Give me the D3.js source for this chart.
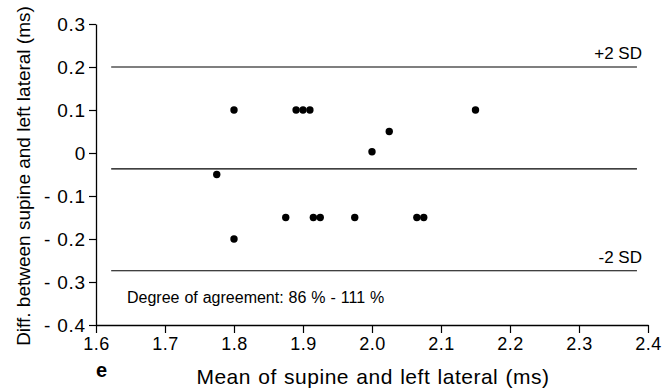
<!DOCTYPE html>
<html>
<head>
<meta charset="utf-8">
<script src="https://cdn.jsdelivr.net/npm/d3@7"></script>
<style>
  html, body { margin: 0; padding: 0; background: #fff; }
  svg { display: block; font-family: "Liberation Sans", Arial, sans-serif; }
</style>
</head>
<body>
<svg id="chart" width="662" height="388"></svg>
<script>
// Bland-Altman data: mean of the two positions vs. their difference (ms)
const meanValues = [1.80, 1.89, 1.90, 1.91, 2.15, 2.025, 2.00, 1.775, 1.875, 1.915, 1.925, 1.975, 2.065, 2.075, 1.80];
const diffValues = [0.10, 0.10, 0.10, 0.10, 0.10, 0.05, 0.003, -0.05, -0.15, -0.15, -0.15, -0.15, -0.15, -0.15, -0.20];

// Reference lines: mean difference and ±2 SD limits
const refLines = [
  { name: "+2 SD", value: 0.20 },
  { name: "mean", value: -0.037 },
  { name: "-2 SD", value: -0.274 }
];
const refLineExtent = [1.622, 2.384];

const xTicks = [1.6, 1.7, 1.8, 1.9, 2.0, 2.1, 2.2, 2.3, 2.4];
const yTicks = [-0.4, -0.3, -0.2, -0.1, 0, 0.1, 0.2, 0.3];

const xTitle = "Mean of supine and left lateral (ms)";
const yTitle = "Diff. between supine and left lateral (ms)";
const agreementText = "Degree of agreement: 86 % - 111 %";
const panelLabel = "e";

const svg = d3.select("#chart");
const plotLeft = 96, plotRight = 648, plotTop = 24, plotBottom = 325;

const x = d3.scaleLinear().domain([1.6, 2.4]).range([plotLeft, plotRight]);
const y = d3.scaleLinear().domain([-0.4, 0.3]).range([plotBottom, plotTop]);

const fmtX = d => d.toFixed(1);
const fmtY = d => d === 0 ? "0" : d.toFixed(1);

// Axes
const xAxis = svg.append("g")
  .attr("transform", `translate(0,${plotBottom})`)
  .call(d3.axisBottom(x).tickValues(xTicks).tickFormat(fmtX).tickSize(8).tickSizeOuter(0));
const yAxis = svg.append("g")
  .attr("transform", `translate(${plotLeft},0)`)
  .call(d3.axisLeft(y).tickValues(yTicks).tickFormat(fmtY).tickSize(7).tickSizeOuter(0));

[xAxis, yAxis].forEach(g => {
  g.select(".domain").attr("stroke", "#000").attr("stroke-width", 1.3);
  g.selectAll(".tick line").attr("stroke", "#000").attr("stroke-width", 1.2);
  g.selectAll(".tick text")
    .attr("fill", "#000")
    .style("font-family", "'Liberation Sans', Arial, sans-serif")
    .style("font-size", "18px")
    .style("letter-spacing", "0.5px");
});
xAxis.selectAll(".tick text").attr("dy", "0.9em").attr("y", 9);
yAxis.selectAll(".tick text")
  .attr("x", -10).attr("dy", "0.36em")
  .style("font-size", "19px")
  .style("letter-spacing", "0.8px");

// Negative labels: open up the gap after the minus sign
yAxis.selectAll(".tick text")
  .filter(d => d < 0)
  .each(function(d) {
    const t = d3.select(this);
    const s = fmtY(d);
    t.text(null);
    t.append("tspan").text(s.slice(0, 1));
    t.append("tspan").attr("dx", 6).text(s.slice(1));
  });

// Reference lines
svg.append("g").selectAll("line")
  .data(refLines)
  .join("line")
  .attr("x1", x(refLineExtent[0]))
  .attr("x2", x(refLineExtent[1]))
  .attr("y1", d => y(d.value))
  .attr("y2", d => y(d.value))
  .attr("stroke", "#000")
  .attr("stroke-width", 1.1);

svg.append("g").selectAll("text")
  .data(refLines.filter(d => d.name !== "mean"))
  .join("text")
  .attr("x", x(refLineExtent[1]) + 5)
  .attr("y", d => y(d.value) - 8)
  .attr("text-anchor", "end")
  .style("font-size", "17px")
  .text(d => d.name);

// Points
svg.append("g").selectAll("circle")
  .data(meanValues.map((m, i) => ({ m, d: diffValues[i] })))
  .join("circle")
  .attr("cx", d => x(d.m))
  .attr("cy", d => y(d.d))
  .attr("r", 3.7)
  .attr("fill", "#000");

// Annotation
svg.append("text")
  .attr("x", 127)
  .attr("y", 303)
  .style("font-size", "16px")
  .style("word-spacing", "0.5px")
  .text(agreementText);

// Axis titles
svg.append("text")
  .attr("x", (plotLeft + plotRight) / 2 + 1)
  .attr("y", 384)
  .attr("text-anchor", "middle")
  .style("font-size", "21px")
  .style("letter-spacing", "0.5px")
  .style("word-spacing", "1px")
  .text(xTitle);

svg.append("text")
  .attr("transform", `translate(30,176) rotate(-90)`)
  .attr("text-anchor", "middle")
  .style("font-size", "19px")
  .text(yTitle);

// Panel label
svg.append("text")
  .attr("x", 96)
  .attr("y", 377)
  .style("font-size", "20px")
  .style("font-weight", "bold")
  .text(panelLabel);
</script>
</body>
</html>
